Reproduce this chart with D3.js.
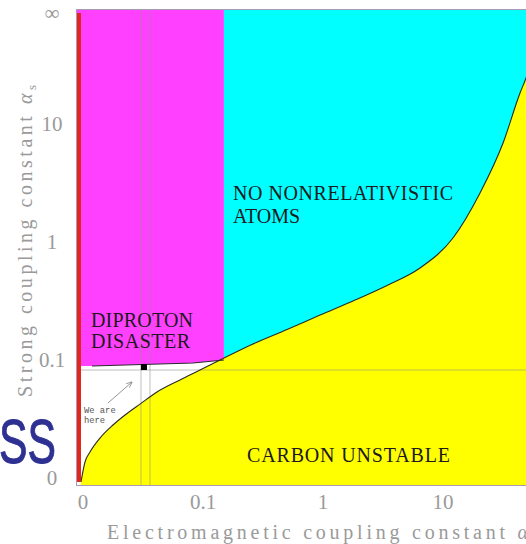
<!DOCTYPE html>
<html>
<head>
<meta charset="utf-8">
<script src="https://cdn.jsdelivr.net/npm/d3@7"></script>
<style>
  html, body { margin: 0; padding: 0; background: #fff; }
  svg { display: block; }
</style>
</head>
<body>
<svg id="chart" width="526" height="544"></svg>
<script>
// Axis ticks (both axes share the same compactified scale 0 … ∞)
const xTickValues = [0, 0.1, 1, 10, Infinity];
const xTickLabels = ["0", "0.1", "1", "10", "\u221E"];
const yTickValues = [0, 0.1, 1, 10, Infinity];
const yTickLabels = ["0", "0.1", "1", "10", "\u221E"];

// Carbon-stability boundary: alpha (EM) vs alpha_s (strong)
const boundaryAlpha  = [0, 6.5e-39, 1.1e-17, 1e-8, 1.97e-5, 4.21e-4, 3.46e-3, 0.0144, 0.0478, 0.097, 0.167, 0.333, 0.594, 0.985, 1.632, 2.891, 5.71, 14.8, 50.9, 323, 4345, 1.94e4, 1.7e7];
const boundaryAlphaS = [0, 3.4e-8, 1.15e-5, 4.8e-4, 3.1e-3, 8.1e-3, 0.0177, 0.0343, 0.0578, 0.0825, 0.1129, 0.1724, 0.2392, 0.3200, 0.4138, 0.5383, 0.712, 1.13, 2.335, 6.57, 41.9, 113, 2.95e7];

// Diproton-binding boundary (upper edge of the white strip)
const diprotonAlpha  = [0, 1.3e-14, 0.0775, 0.183];
const diprotonAlphaS = [0.094, 0.094, 0.1031, 0.1127];

// Nonrelativistic-atom limit on alpha
const atomLimitAlpha = 0.183;

// Observed values: band in alpha, level of alpha_s, and the marked point
const observedAlphaBand = [0.00385, 0.00867];
const observedAlphaS = 0.0825;
const herePoint = { alpha: 0.00516, alphaS: 0.091 };

// Compactifying map: 0 -> -1, 0.1 -> -0.5, 1 -> 0, 10 -> 0.5, inf -> 1
const squash = v => (2 / Math.PI) * Math.atan(Math.log10(v));

const svg = d3.select("#chart");
const frame = { left: 77, top: 10, right: 540, bottom: 485 };

const xT = d3.scaleLinear().domain([-1, 1]).range([81, 561]);
const yT = d3.scaleLinear().domain([-1, 1]).range([482, 10]);
const xs = v => xT(squash(v));
const ys = v => yT(squash(v));

const defs = svg.append("defs");
defs.append("clipPath").attr("id", "plotClip")
  .append("rect")
  .attr("x", frame.left).attr("y", frame.top)
  .attr("width", frame.right - frame.left).attr("height", frame.bottom - frame.top);

defs.append("marker")
  .attr("id", "arrowHead").attr("viewBox", "0 0 10 10")
  .attr("refX", 9).attr("refY", 5)
  .attr("markerWidth", 7).attr("markerHeight", 7)
  .attr("orient", "auto-start-reverse")
  .append("path").attr("d", "M0,1 L10,5 L0,9").attr("fill", "none")
  .attr("stroke", "#888").attr("stroke-width", 1.2);

const plot = svg.append("g").attr("clip-path", "url(#plotClip)");

// white background
plot.append("rect")
  .attr("x", frame.left).attr("y", frame.top)
  .attr("width", frame.right - frame.left).attr("height", frame.bottom - frame.top)
  .attr("fill", "#fff");

// NO NONRELATIVISTIC ATOMS (cyan)
plot.append("rect")
  .attr("x", xs(atomLimitAlpha)).attr("y", frame.top)
  .attr("width", frame.right - xs(atomLimitAlpha))
  .attr("height", frame.bottom - frame.top)
  .attr("fill", "#00ffff");

// DIPROTON DISASTER (magenta)
const diproton = diprotonAlpha.map((a, i) => [a, diprotonAlphaS[i]]);
const magentaArea = d3.area()
  .x(d => d[0] === 0 ? frame.left : xs(d[0]))
  .y0(frame.top)
  .y1(d => ys(d[1]));
plot.append("path").datum(diproton)
  .attr("d", magentaArea)
  .attr("fill", "#ff40ff");

// CARBON UNSTABLE (yellow)
const boundary = boundaryAlpha.map((a, i) => [a, boundaryAlphaS[i]]);
const yellowArea = d3.area()
  .x(d => xs(d[0]))
  .y0(frame.bottom)
  .y1(d => ys(d[1]))
  .curve(d3.curveMonotoneX);
plot.append("path").datum(boundary)
  .attr("d", yellowArea)
  .attr("fill", "#ffff00");

// observed-value guide lines
plot.selectAll("line.vband").data(observedAlphaBand).join("line")
  .attr("class", "vband")
  .attr("x1", d => xs(d)).attr("x2", d => xs(d))
  .attr("y1", frame.top).attr("y2", frame.bottom)
  .attr("stroke", "#8a8a8a").attr("stroke-opacity", 0.55).attr("stroke-width", 1);
plot.append("line")
  .attr("x1", xs(0)).attr("x2", frame.right)
  .attr("y1", ys(observedAlphaS)).attr("y2", ys(observedAlphaS))
  .attr("stroke", "#8a8a8a").attr("stroke-opacity", 0.55).attr("stroke-width", 1);

// boundary curves
plot.append("path").datum(boundary)
  .attr("d", d3.line().x(d => xs(d[0])).y(d => ys(d[1])).curve(d3.curveMonotoneX))
  .attr("fill", "none").attr("stroke", "#2a2a2a").attr("stroke-width", 1.1);
plot.append("path").datum(diproton.slice(1))
  .attr("d", d3.line().x(d => xs(d[0])).y(d => ys(d[1])))
  .attr("fill", "none").attr("stroke", "#2a2a2a").attr("stroke-width", 1.2);

// alpha = 0 edge
plot.append("rect")
  .attr("x", xs(0) - 4).attr("y", ys(Infinity) + 3)
  .attr("width", 4).attr("height", ys(0) - ys(Infinity) - 3)
  .attr("fill", "#e3261b");

// frame
svg.append("rect")
  .attr("x", frame.left - 0.5).attr("y", frame.top - 0.5)
  .attr("width", frame.right - frame.left + 1).attr("height", frame.bottom - frame.top + 1)
  .attr("fill", "none").attr("stroke", "#a99ab5").attr("stroke-width", 1);

// "we are here" marker
const hx = xs(herePoint.alpha), hy = ys(herePoint.alphaS);
svg.append("rect")
  .attr("x", hx - 3).attr("y", hy - 3).attr("width", 6).attr("height", 6)
  .attr("fill", "#000");
svg.append("line")
  .attr("x1", hx - 36).attr("y1", hy + 36)
  .attr("x2", hx - 12).attr("y2", hy + 15)
  .attr("stroke", "#888").attr("stroke-width", 0.9)
  .attr("marker-end", "url(#arrowHead)");
svg.append("text")
  .attr("x", xs(0) + 3).attr("y", hy + 46)
  .attr("font-family", "'Liberation Mono', 'DejaVu Sans Mono', monospace")
  .attr("font-size", 8.8).attr("fill", "#555")
  .text("We are");
svg.append("text")
  .attr("x", xs(0) + 3).attr("y", hy + 56)
  .attr("font-family", "'Liberation Mono', 'DejaVu Sans Mono', monospace")
  .attr("font-size", 8.8).attr("fill", "#555")
  .text("here");

// region labels
const regionFont = "'Liberation Serif', 'Times New Roman', serif";
function regionLabel(x, y, str, len) {
  svg.append("text")
    .attr("x", x).attr("y", y)
    .attr("font-family", regionFont).attr("font-size", 20)
    .attr("fill", "#1c1a1e")
    .attr("textLength", len).attr("lengthAdjust", "spacing")
    .text(str);
}
regionLabel(233, 200, "NO NONRELATIVISTIC", 220);
regionLabel(233, 223, "ATOMS", 67);
regionLabel(91, 327, "DIPROTON", 102);
regionLabel(91, 348, "DISASTER", 99);
regionLabel(247, 462, "CARBON UNSTABLE", 203);

// axes
const axisFont = "'Liberation Serif', 'Times New Roman', serif";
const xAxis = d3.axisBottom(xT)
  .tickValues(xTickValues.map(squash))
  .tickFormat((d, i) => xTickLabels[i])
  .tickSize(0).tickPadding(0);
const gx = svg.append("g").attr("transform", "translate(0,509)").call(xAxis);
gx.select(".domain").remove();
gx.selectAll(".tick").attr("transform", d => `translate(${xT(d) + 2},0)`);
gx.selectAll("text")
  .attr("dy", null).attr("y", 0)
  .attr("font-family", axisFont).attr("font-size", 21).attr("fill", "#9a9a9a");

const yAxis = d3.axisLeft(yT)
  .tickValues(yTickValues.map(squash))
  .tickFormat((d, i) => yTickLabels[i])
  .tickSize(0).tickPadding(0);
const gy = svg.append("g").call(yAxis);
gy.select(".domain").remove();
gy.selectAll(".tick").attr("transform", d => `translate(0,${Math.max(13, yT(d) - 4)})`);
gy.selectAll("text")
  .attr("x", 52).attr("dy", "0.35em")
  .attr("text-anchor", "middle")
  .attr("font-family", axisFont).attr("font-size", 21).attr("fill", "#9a9a9a");

// axis titles
const xTitle = svg.append("text")
  .attr("x", 317.5).attr("y", 539)
  .attr("text-anchor", "middle")
  .attr("font-family", axisFont).attr("font-size", 20).attr("fill", "#9a9a9a")
  .attr("textLength", 421).attr("lengthAdjust", "spacing");
xTitle.append("tspan").text("Electromagnetic coupling constant ");
xTitle.append("tspan").attr("font-style", "italic").text("\u03B1");

const yTitle = svg.append("text")
  .attr("transform", "translate(32,241) rotate(-90)")
  .attr("text-anchor", "middle")
  .attr("font-family", axisFont).attr("font-size", 20).attr("fill", "#9a9a9a")
  .attr("textLength", 312).attr("lengthAdjust", "spacing");
yTitle.append("tspan").text("Strong coupling constant ");
yTitle.append("tspan").attr("font-style", "italic").text("\u03B1");
yTitle.append("tspan").attr("font-size", 13).attr("dy", 4).text("s");

// stray slide heading fragment at the left edge
svg.append("text")
  .attr("x", -1).attr("y", 463)
  .attr("font-family", "'Liberation Sans', Arial, sans-serif")
  .attr("font-size", 63).attr("fill", "#2e3192")
  .attr("stroke", "#2e3192").attr("stroke-width", 1)
  .attr("textLength", 57).attr("lengthAdjust", "spacingAndGlyphs")
  .text("SS");
</script>
</body>
</html>
